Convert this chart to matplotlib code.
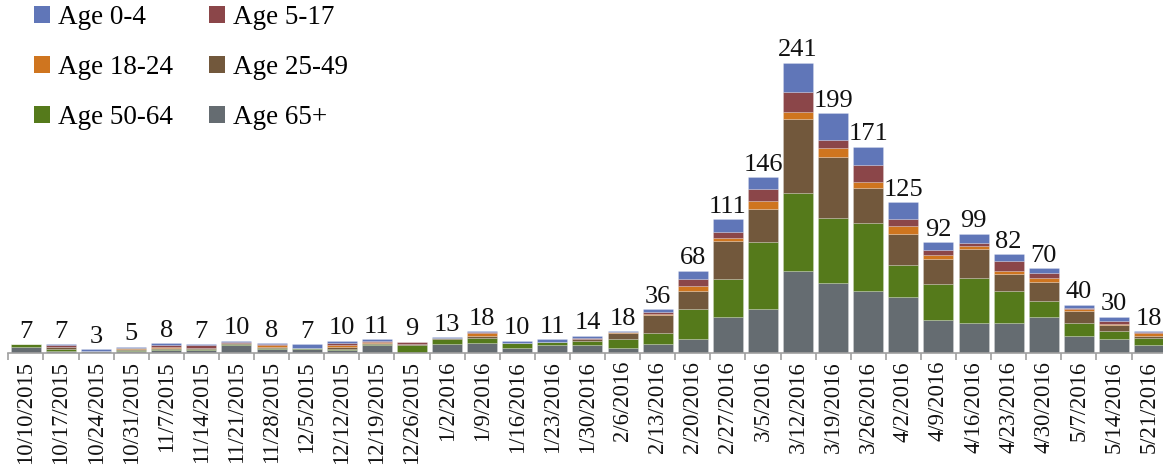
import numpy as np
import matplotlib
matplotlib.use("Agg")
import matplotlib.pyplot as plt
from matplotlib.patches import Patch

plt.rcParams['font.family'] = ['Liberation Serif', 'DejaVu Serif']

weeks = ['10/10/2015', '10/17/2015', '10/24/2015', '10/31/2015', '11/7/2015',
         '11/14/2015', '11/21/2015', '11/28/2015', '12/5/2015', '12/12/2015',
         '12/19/2015', '12/26/2015', '1/2/2016', '1/9/2016', '1/16/2016',
         '1/23/2016', '1/30/2016', '2/6/2016', '2/13/2016', '2/20/2016',
         '2/27/2016', '3/5/2016', '3/12/2016', '3/19/2016', '3/26/2016',
         '4/2/2016', '4/9/2016', '4/16/2016', '4/23/2016', '4/30/2016',
         '5/7/2016', '5/14/2016', '5/21/2016']

# weekly counts per age group
age_65p   = [5, 1, 1, 1, 2, 2, 6, 3, 3, 2, 6, 0, 7, 8, 4, 6, 6, 4, 7, 11,
             30, 36, 68, 58, 51, 46, 27, 25, 25, 30, 14, 11, 6]
age_50_64 = [2, 2, 0, 1, 1, 1, 1, 1, 1, 1, 1, 6, 4, 4, 4, 3, 4, 7, 9, 25,
             31, 56, 65, 54, 57, 27, 30, 37, 26, 13, 11, 7, 6]
age_25_49 = [0, 2, 0, 1, 1, 1, 1, 1, 0, 2, 1, 1, 1, 2, 0, 0, 1, 5, 15, 15,
             32, 27, 61, 51, 29, 26, 21, 24, 14, 16, 10, 5, 2]
age_18_24 = [0, 0, 0, 1, 1, 0, 0, 1, 0, 1, 1, 0, 0, 2, 0, 0, 0, 1, 1, 4,
             2, 7, 6, 7, 5, 6, 3, 3, 3, 3, 1, 1, 2]
age_5_17  = [0, 1, 0, 0, 1, 2, 1, 1, 0, 2, 1, 2, 0, 1, 0, 0, 1, 0, 2, 6,
             5, 10, 17, 7, 14, 6, 4, 2, 8, 4, 1, 2, 1]
age_0_4   = [0, 1, 2, 1, 2, 1, 1, 1, 3, 2, 1, 0, 1, 1, 2, 2, 2, 1, 2, 7,
             11, 10, 24, 22, 15, 14, 7, 8, 6, 4, 3, 4, 1]

# stacked bottom to top
series = [
    ('Age 65+', age_65p, '#656C71'),
    ('Age 50-64', age_50_64, '#557A1B'),
    ('Age 25-49', age_25_49, '#72583C'),
    ('Age 18-24', age_18_24, '#CF751F'),
    ('Age 5-17', age_5_17, '#8B4649'),
    ('Age 0-4', age_0_4, '#6076B8'),
]

fig = plt.figure(figsize=(11.63, 4.70), dpi=100)
ax = fig.add_axes([0.00714, 0.2496, 0.996, 0.717])

x = np.arange(len(weeks))
bottom = np.zeros(len(weeks))
for name, vals, color in series:
    ax.bar(x, vals, width=0.855, bottom=bottom, color=color,
           edgecolor=(1, 1, 1, 0.35), linewidth=0.4, label=name)
    bottom += np.array(vals)

# weekly totals above each bar
for xi, total in zip(x, bottom):
    ax.annotate(f'{int(total)}', (xi, total), xytext=(0, 1),
                textcoords='offset points', ha='center', va='bottom',
                fontsize=19, color='#111111')

ax.set_xlim(-0.5, len(weeks) - 0.5)
ax.set_ylim(0, 280)
ax.set_yticks([])
for side in ('left', 'top', 'right'):
    ax.spines[side].set_visible(False)
ax.spines['bottom'].set_color('#A0A0A0')
ax.spines['bottom'].set_linewidth(1.2)

ax.set_xticks(x)
ax.set_xticklabels(weeks, rotation=90, fontsize=16.3, color='#111111')
ax.tick_params(axis='x', which='major', length=0, pad=6)
ax.set_xticks(np.arange(-0.5, len(weeks), 1), minor=True)
ax.tick_params(axis='x', which='minor', length=5, width=1.2, color='#A0A0A0')

# legend laid out in two columns, row-wise order
colors = {name: color for name, _, color in series}
order = ['Age 0-4', 'Age 18-24', 'Age 50-64', 'Age 5-17', 'Age 25-49', 'Age 65+']
handles = [Patch(facecolor=colors[n], edgecolor='none') for n in order]
fig.legend(handles, order, ncol=2, loc='upper left',
           bbox_to_anchor=(34 / 1163, 1 - 5 / 470), frameon=False,
           fontsize=19.5, borderpad=0, borderaxespad=0,
           handlelength=0.6, handleheight=0.6, handletextpad=0.3,
           columnspacing=1.3, labelspacing=0.92)

fig.savefig('out.png', dpi=100)
